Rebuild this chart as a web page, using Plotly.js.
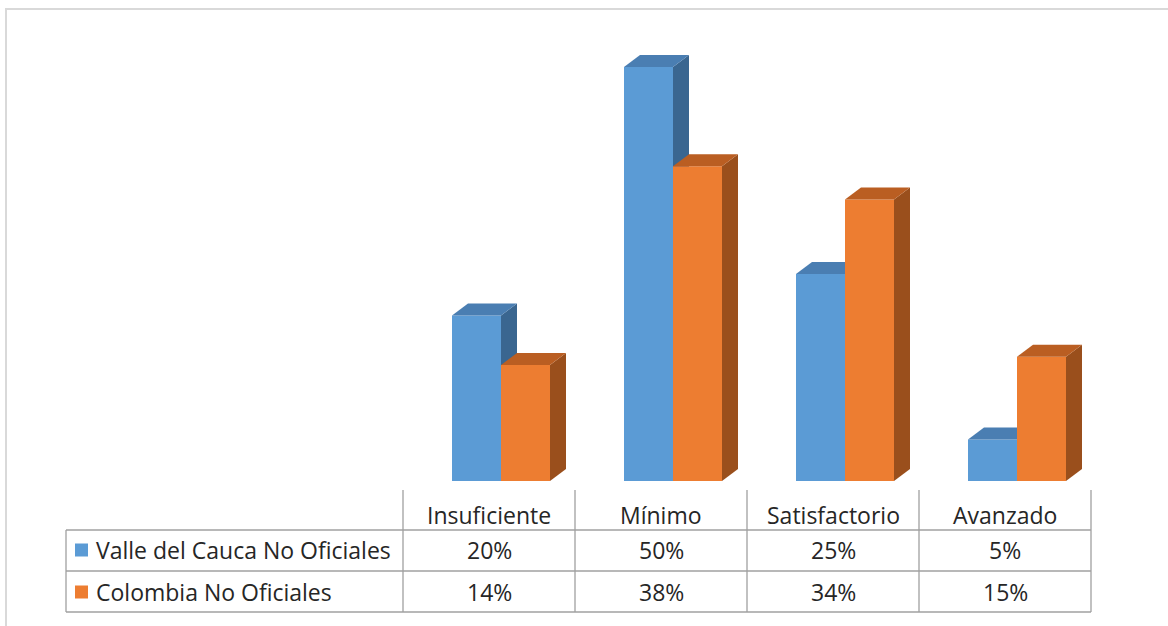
<!DOCTYPE html>
<html>
<head>
<meta charset="utf-8">
<script src="https://cdn.plot.ly/plotly-3.0.1.min.js"></script>
<style>
  html, body { margin: 0; padding: 0; background: #ffffff; }
  #chart { width: 1168px; height: 626px; }
</style>
</head>
<body>
<div id="chart"></div>
<script>
// ---- data ----
const categories = ['Insuficiente', 'Mínimo', 'Satisfactorio', 'Avanzado'];
const seriesNames = ['Valle del Cauca No Oficiales', 'Colombia No Oficiales'];
const valleValues = [20, 50, 25, 5];
const colombiaValues = [14, 38, 34, 15];

// ---- style / geometry ----
const W = 1168, H = 626;
const M = { l: 403, r: 77, t: 40, b: 145 };
const plotW = W - M.l - M.r;   // 688
const plotH = H - M.t - M.b;   // 441
const xRange = [-0.5, 3.5];
const yRange = [0, 53.26];
const unitX = plotW / (xRange[1] - xRange[0]);  // px per category
const unitY = plotH / (yRange[1] - yRange[0]);  // px per %
const barW = 49 / unitX;
const depthX = 16 / unitX;
const depthY = 12 / unitY;

const series = [
  { name: seriesNames[0], values: valleValues, offset: -37 / unitX,
    front: '#5B9BD5', top: '#4A7EB2', side: '#3A6690', xa: 'x', ya: 'y' },
  { name: seriesNames[1], values: colombiaValues, offset: 12 / unitX,
    front: '#ED7D31', top: '#BA5E22', side: '#9A4F1C', xa: 'x2', ya: 'y2' }
];

const xs = categories.map((c, i) => i);
const traces = [];
series.forEach(s => {
  traces.push({
    type: 'bar', x: xs, y: s.values, offset: s.offset, width: barW,
    marker: { color: s.front, line: { width: 0 } },
    name: s.name, showlegend: false, hoverinfo: 'skip',
    xaxis: s.xa, yaxis: s.ya
  });
  s.values.forEach((v, i) => {
    const xl = i + s.offset, xr = xl + barW;
    // side face
    traces.push({
      type: 'scatter', mode: 'lines', fill: 'toself', fillcolor: s.side,
      line: { width: 0, color: s.side },
      x: [xr, xr + depthX, xr + depthX, xr, xr],
      y: [0, depthY, v + depthY, v, 0],
      showlegend: false, hoverinfo: 'skip', xaxis: s.xa, yaxis: s.ya
    });
    // top face
    traces.push({
      type: 'scatter', mode: 'lines', fill: 'toself', fillcolor: s.top,
      line: { width: 0, color: s.top },
      x: [xl, xl + depthX, xr + depthX, xr, xl],
      y: [v, v + depthY, v + depthY, v, v],
      showlegend: false, hoverinfo: 'skip', xaxis: s.xa, yaxis: s.ya
    });
  });
});

// ---- table (annotations + lines) ----
const px = p => (p - M.l) / plotW;          // pixel x -> paper x
const py = p => (H - M.b - p) / plotH;      // pixel y -> paper y
const font = { family: '"Open Sans", Lato, sans-serif', size: 23, color: '#262626' };
const annotations = [];
categories.forEach((c, i) => {
  annotations.push({ x: i, xref: 'x', y: py(515), yref: 'paper', text: c,
    showarrow: false, font: font, xanchor: 'center', yanchor: 'middle' });
  annotations.push({ x: i, xref: 'x', y: py(550), yref: 'paper', text: valleValues[i] + '%',
    showarrow: false, font: font, xanchor: 'center', yanchor: 'middle' });
  annotations.push({ x: i, xref: 'x', y: py(592), yref: 'paper', text: colombiaValues[i] + '%',
    showarrow: false, font: font, xanchor: 'center', yanchor: 'middle' });
});
annotations.push({ x: px(94), xref: 'paper', y: py(550), yref: 'paper', text: seriesNames[0],
  showarrow: false, font: font, xanchor: 'left', yanchor: 'middle' });
annotations.push({ x: px(94), xref: 'paper', y: py(592), yref: 'paper', text: seriesNames[1],
  showarrow: false, font: font, xanchor: 'left', yanchor: 'middle' });

const gridLine = { color: '#A0A0A0', width: 1.3 };
const frameLine = { color: '#D9D9D9', width: 2 };
const shapes = [];
const hline = (x0, x1, y, line) => shapes.push({ type: 'line', xref: 'paper', yref: 'paper',
  x0: px(x0), x1: px(x1), y0: py(y), y1: py(y), line: line });
const vline = (x, y0, y1, line) => shapes.push({ type: 'line', xref: 'paper', yref: 'paper',
  x0: px(x), x1: px(x), y0: py(y0), y1: py(y1), line: line });
hline(66, 1091, 530, gridLine);
hline(66, 1091, 571, gridLine);
hline(66, 1091, 612, gridLine);
vline(66, 530, 612, gridLine);
[403, 575, 747, 919, 1091].forEach(x => vline(x, 490, 612, gridLine));
// legend keys
[[series[0].front, 550], [series[1].front, 592]].forEach(([col, cy]) => {
  shapes.push({ type: 'rect', xref: 'paper', yref: 'paper',
    x0: px(75), x1: px(88), y0: py(cy - 6.5), y1: py(cy + 6.5),
    fillcolor: col, line: { width: 0 } });
});
// outer frame
hline(5, 1168, 9, frameLine);
vline(6, 8, 626, frameLine);

const layout = {
  width: W, height: H,
  margin: M,
  paper_bgcolor: '#ffffff', plot_bgcolor: 'rgba(0,0,0,0)',
  barmode: 'overlay',
  showlegend: false,
  xaxis: { range: xRange, visible: false, fixedrange: true },
  yaxis: { range: yRange, visible: false, fixedrange: true },
  xaxis2: { range: xRange, visible: false, overlaying: 'x', fixedrange: true },
  yaxis2: { range: yRange, visible: false, overlaying: 'y', fixedrange: true },
  annotations: annotations,
  shapes: shapes
};

Plotly.newPlot('chart', traces, layout, { displayModeBar: false, staticPlot: true });
</script>
</body>
</html>
